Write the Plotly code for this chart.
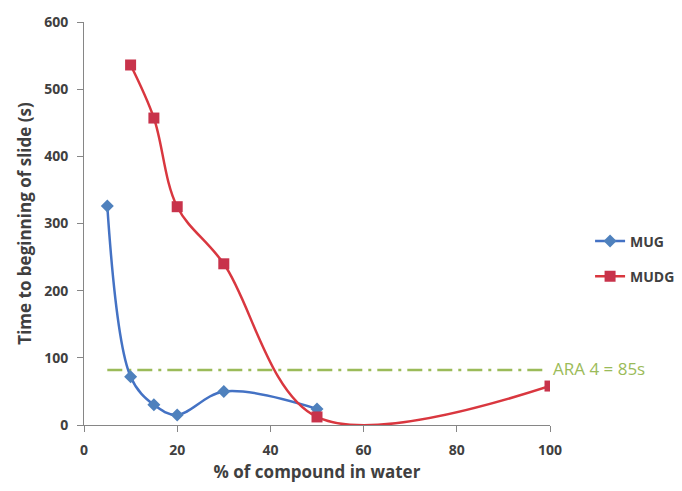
import plotly.graph_objects as go

mug_x = [5, 10, 15, 20, 30, 50]
mug_y = [326, 72, 30, 15, 50, 24]
mudg_x = [10, 15, 20, 30, 50, 100]
mudg_y = [536, 457, 325, 240, 12, 58]
ara_x = [5, 99]
ara_y = [82, 82]
ara_label = "ARA 4 = 85s"
x_ticks = [0, 20, 40, 60, 80, 100]
y_ticks = [0, 100, 200, 300, 400, 500, 600]

FONT = "Open Sans"
TXT = "#404040"

fig = go.Figure()
fig.add_trace(go.Scatter(
    x=ara_x, y=ara_y, mode="lines", showlegend=False,
    line=dict(color="#9BBB59", width=2.5, dash="longdashdot"), hoverinfo="skip"))
fig.add_trace(go.Scatter(
    x=mug_x, y=mug_y, name="MUG", mode="lines+markers", legendgroup="a",
    line=dict(color="#4472C4", width=2.5, shape="spline", smoothing=1),
    marker=dict(symbol="diamond", size=10, color="#4F81BD")))
fig.add_trace(go.Scatter(
    x=mudg_x, y=mudg_y, name="MUDG", mode="lines+markers", legendgroup="b",
    line=dict(color="#D9373F", width=2.5, shape="spline", smoothing=1),
    marker=dict(symbol="square", size=11, color="#C8334B")))

fig.add_annotation(x=100, y=ara_y[-1], text=ara_label, showarrow=False,
                   xanchor="left", yanchor="middle", xshift=1, yshift=1,
                   font=dict(color="#9BBB59", size=17, family=FONT))

axis_common = dict(showgrid=False, zeroline=False, showline=True, linecolor="#868686",
                   linewidth=1, ticks="outside", ticklen=6, tickcolor="#868686",
                   automargin=False, ticklabelstandoff=6,
                   tickfont=dict(size=14, color=TXT, family=FONT, weight="bold"))
fig.update_xaxes(range=[0, 100], tickvals=x_ticks, **axis_common,
                 title=dict(text="% of compound in water",
                            font=dict(size=17, color=TXT, family=FONT, weight="bold"), standoff=8))
fig.update_yaxes(range=[0, 600], tickvals=y_ticks, **axis_common,
                 title=dict(text="Time to beginning of slide (s)",
                            font=dict(size=17, color=TXT, family=FONT, weight="bold"), standoff=8))

fig.update_layout(
    width=674, height=483,
    margin=dict(l=76, r=132, t=14, b=66, autoexpand=False),
    plot_bgcolor="white", paper_bgcolor="white",
    legend=dict(x=1.086, y=0.495, xanchor="left", yanchor="top",
                traceorder="grouped", tracegroupgap=14,
                font=dict(size=14, color=TXT, family=FONT, weight="bold")),
)
fig.write_html("out.html")
